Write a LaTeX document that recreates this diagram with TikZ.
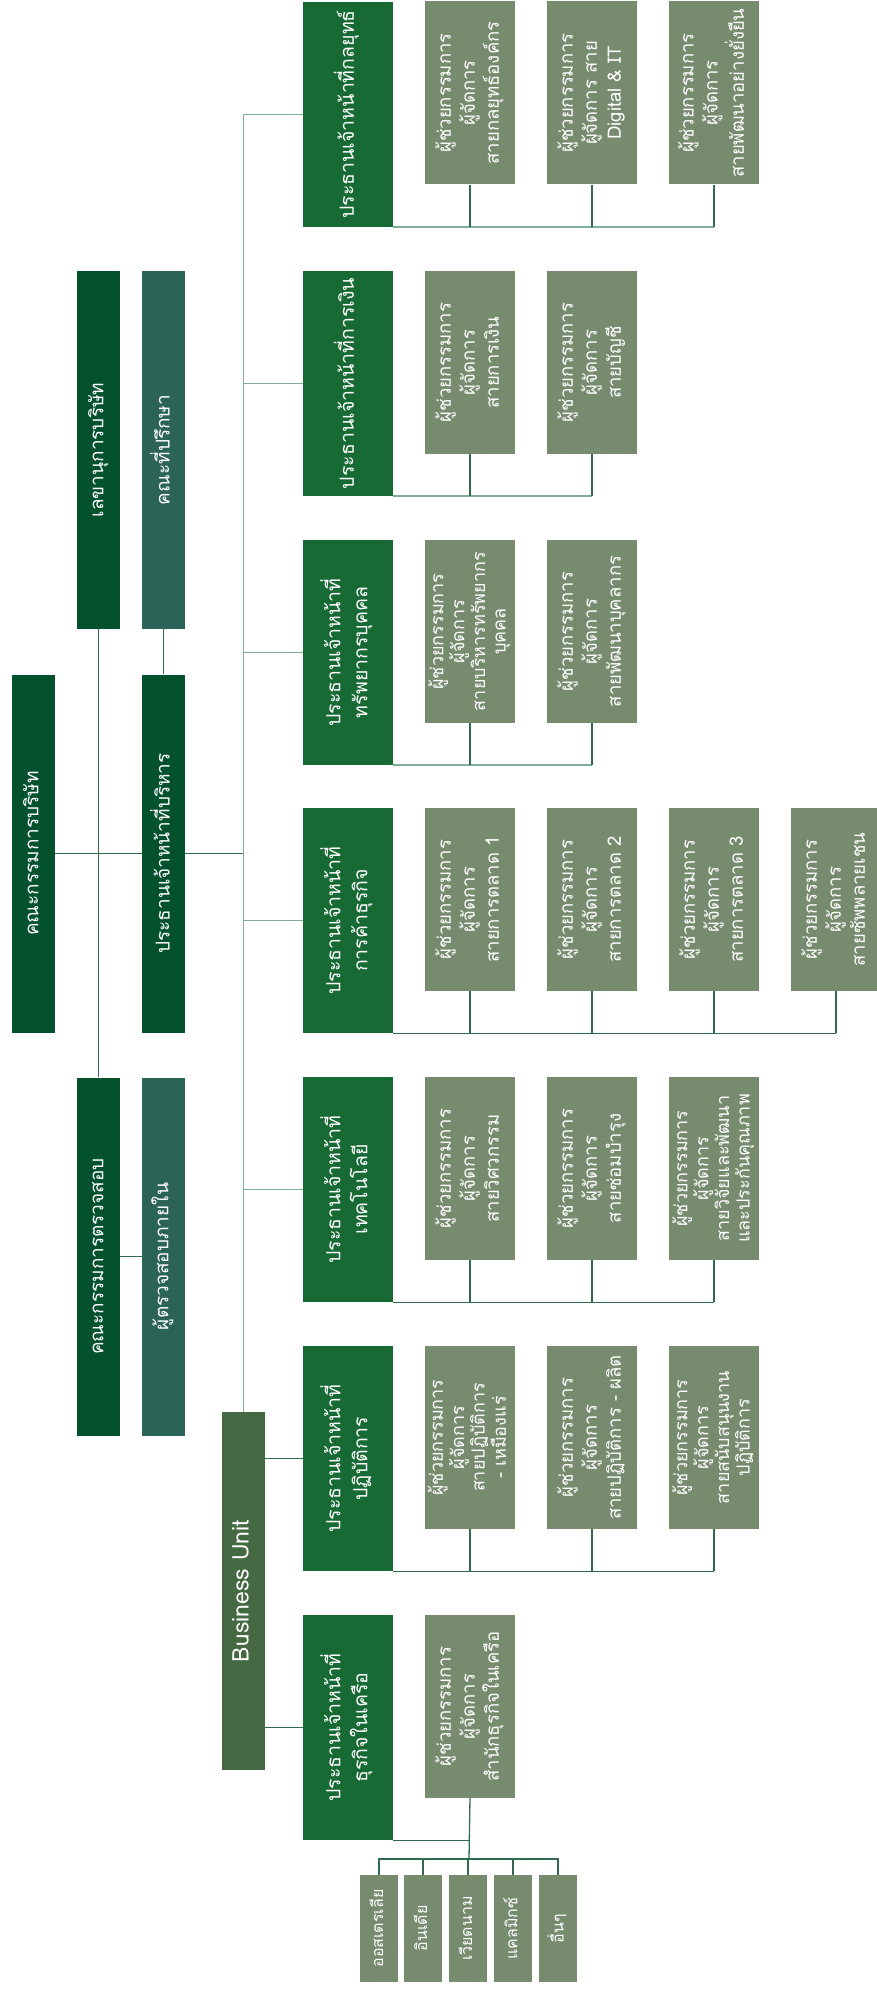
\documentclass[tikz,border=0pt]{standalone}
\usepackage{graphicx}
\usepackage{fontspec}
\setmainfont[Script=Thai]{Loma}
\usepackage{tikz}
\usetikzlibrary{positioning}

\definecolor{boardgreen}{HTML}{03522D}
\definecolor{headgreen}{HTML}{176A34}
\definecolor{asstgreen}{HTML}{778C6F}
\definecolor{tealgreen}{HTML}{2B6356}
\definecolor{bugreen}{HTML}{456943}
\definecolor{linkgreen}{HTML}{2F6B4C}
\definecolor{trunkgreen}{HTML}{7FAE98}

\newcommand{\vlabel}[1]{\rotatebox{90}{\begin{tabular}{@{}c@{}}#1\end{tabular}}}

\begin{document}
\begin{tikzpicture}[x=1pt, y=-1pt,
    tall/.style={minimum width=43pt, minimum height=358pt, inner sep=0pt, text=white, font=\fontsize{19}{24}\selectfont},
    head/.style={fill=headgreen, minimum width=90pt, minimum height=225pt, inner sep=0pt, text=white, font=\fontsize{19.5}{27}\selectfont},
    asst/.style={fill=asstgreen, minimum width=90pt, minimum height=183pt, inner sep=0pt, text=white, font=\fontsize{18.5}{24}\selectfont},
    asstfour/.style={asst, font=\fontsize{18}{20.5}\selectfont},
    country/.style={fill=asstgreen, minimum width=38pt, minimum height=107pt, inner sep=0pt, text=white, font=\fontsize{16}{18}\selectfont},
    link/.style={draw=linkgreen, line width=1.3pt},
    trunk/.style={draw=trunkgreen, line width=1.6pt}]

    \useasboundingbox (0,0) rectangle (876,1993);

    %Board column
    \node[tall, fill=boardgreen](board) at (33.5,853.5){\vlabel{คณะกรรมการบริษัท}};
    \node[tall, fill=boardgreen](secretary) at (98.5,450){\vlabel{เลขานุการบริษัท}};
    \node[tall, fill=tealgreen](advisors) at (163.5,450){\vlabel{คณะที่ปรึกษา}};
    \node[tall, fill=boardgreen](ceo) at (163.5,853.5){\vlabel{ประธานเจ้าหน้าที่บริหาร}};
    \node[tall, fill=boardgreen](auditcom) at (98.5,1256.5){\vlabel{คณะกรรมการตรวจสอบ}};
    \node[tall, fill=tealgreen](auditor) at (163.5,1256.5){\vlabel{ผู้ตรวจสอบภายใน}};
    \node[tall, fill=bugreen, font=\fontsize{23}{26}\selectfont](bu) at (243.5,1591){\vlabel{Business Unit}};

    %Chiefs
    \node[head](strategy) at (348,114.5){\vlabel{ประธานเจ้าหน้าที่กลยุทธ์}};
    \node[head](finance) at (348,383.5){\vlabel{ประธานเจ้าหน้าที่การเงิน}};
    \node[head](hr) at (348,652.5){\vlabel{ประธานเจ้าหน้าที่\\ทรัพยากรบุคคล}};
    \node[head](commerce) at (348,920.5){\vlabel{ประธานเจ้าหน้าที่\\การค้าธุรกิจ}};
    \node[head](tech) at (348,1189.5){\vlabel{ประธานเจ้าหน้าที่\\เทคโนโลยี}};
    \node[head](ops) at (348,1458.5){\vlabel{ประธานเจ้าหน้าที่\\ปฏิบัติการ}};
    \node[head](affil) at (348,1727.5){\vlabel{ประธานเจ้าหน้าที่\\ธุรกิจในเครือ}};

    %Assistants
    \node[asst](strategyA) at (470,93){\vlabel{ผู้ช่วยกรรมการ\\ผู้จัดการ\\สายกลยุทธ์องค์กร}};
    \node[asst](strategyB) at (592,93){\vlabel{ผู้ช่วยกรรมการ\\ผู้จัดการ สาย\\Digital \& IT}};
    \node[asst](strategyC) at (714,93){\vlabel{ผู้ช่วยกรรมการ\\ผู้จัดการ\\สายพัฒนาอย่างยั่งยืน}};
    \node[asst](financeA) at (470,362.5){\vlabel{ผู้ช่วยกรรมการ\\ผู้จัดการ\\สายการเงิน}};
    \node[asst](financeB) at (592,362.5){\vlabel{ผู้ช่วยกรรมการ\\ผู้จัดการ\\สายบัญชี}};
    \node[asstfour](hrA) at (470,631.5){\vlabel{ผู้ช่วยกรรมการ\\ผู้จัดการ\\สายบริหารทรัพยากร\\บุคคล}};
    \node[asst](hrB) at (592,631.5){\vlabel{ผู้ช่วยกรรมการ\\ผู้จัดการ\\สายพัฒนาบุคลากร}};
    \node[asst](commerceA) at (470,899.5){\vlabel{ผู้ช่วยกรรมการ\\ผู้จัดการ\\สายการตลาด 1}};
    \node[asst](commerceB) at (592,899.5){\vlabel{ผู้ช่วยกรรมการ\\ผู้จัดการ\\สายการตลาด 2}};
    \node[asst](commerceC) at (714,899.5){\vlabel{ผู้ช่วยกรรมการ\\ผู้จัดการ\\สายการตลาด 3}};
    \node[asst](commerceD) at (836,899.5){\vlabel{ผู้ช่วยกรรมการ\\ผู้จัดการ\\สายซัพพลายเชน}};
    \node[asst](techA) at (470,1168.5){\vlabel{ผู้ช่วยกรรมการ\\ผู้จัดการ\\สายวิศวกรรม}};
    \node[asst](techB) at (592,1168.5){\vlabel{ผู้ช่วยกรรมการ\\ผู้จัดการ\\สายซ่อมบำรุง}};
    \node[asstfour](techC) at (714,1168.5){\vlabel{ผู้ช่วยกรรมการ\\ผู้จัดการ\\สายวิจัยและพัฒนา\\และประกันคุณภาพ}};
    \node[asstfour](opsA) at (470,1437.5){\vlabel{ผู้ช่วยกรรมการ\\ผู้จัดการ\\สายปฏิบัติการ\\- เหมืองแร่}};
    \node[asst](opsB) at (592,1437.5){\vlabel{ผู้ช่วยกรรมการ\\ผู้จัดการ\\สายปฏิบัติการ - ผลิต}};
    \node[asstfour](opsC) at (714,1437.5){\vlabel{ผู้ช่วยกรรมการ\\ผู้จัดการ\\สายสนับสนุนงาน\\ปฏิบัติการ}};
    \node[asst](affilA) at (470,1706.5){\vlabel{ผู้ช่วยกรรมการ\\ผู้จัดการ\\สำนักธุรกิจในเครือ}};

    %Countries
    \node[country](australia) at (379,1928.5){\vlabel{ออสเตรเลีย}};
    \node[country](india) at (423,1928.5){\vlabel{อินเดีย}};
    \node[country](vietnam) at (468,1928.5){\vlabel{เวียดนาม}};
    \node[country](calmix) at (513,1928.5){\vlabel{แคลมิกซ์}};
    \node[country](others) at (558,1928.5){\vlabel{อื่นๆ}};
    \coordinate (hub) at (469,1859);

    %Lines
    \draw[link] (board.east) -- (ceo.west);
    \draw[link] (secretary.south) -- (auditcom.north);
    \draw[link] (advisors.south) -- (ceo.north);
    \draw[link] (auditcom.east) -- (auditor.west);
    \draw[link] (ceo.east) -- (ceo.east -| bu.north);
    \draw[trunk] (strategy.west -| bu.north) -- (bu.north);
    \foreach \h in {strategy, finance, hr, commerce, tech}
        \draw[trunk] (\h.west -| bu.north) -- (\h.west);
    \foreach \h in {ops, affil}
        \draw[link] (bu.east |- \h.west) -- (\h.west);

    \draw[trunk] (strategy.south east) -- (strategyC.south |- strategy.south);
    \draw[trunk] (finance.south east) -- (financeB.south |- finance.south);
    \draw[trunk] (hr.south east) -- (hrB.south |- hr.south);
    \draw[link] (commerce.south east) -- (commerceD.south |- commerce.south);
    \draw[link] (tech.south east) -- (techC.south |- tech.south);
    \draw[link] (ops.south east) -- (opsC.south |- ops.south);
    \draw[link] (affil.south east) -- (affilA.south |- affil.south);
    \foreach \a/\h in {strategyA/strategy, strategyB/strategy, strategyC/strategy, financeA/finance, financeB/finance, hrA/hr, hrB/hr, commerceA/commerce, commerceB/commerce, commerceC/commerce, commerceD/commerce, techA/tech, techB/tech, techC/tech, opsA/ops, opsB/ops, opsC/ops}
        \draw[link] (\a.south) -- (\a.south |- \h.south);

    \draw[link] (affilA.south) -- (hub);
    \draw[link] (australia.north) -- (australia.north |- hub) -- (others.north |- hub) -- (others.north);
    \foreach \c in {india, vietnam, calmix}
        \draw[link] (\c.north) -- (\c.north |- hub);

\end{tikzpicture}
\end{document}
